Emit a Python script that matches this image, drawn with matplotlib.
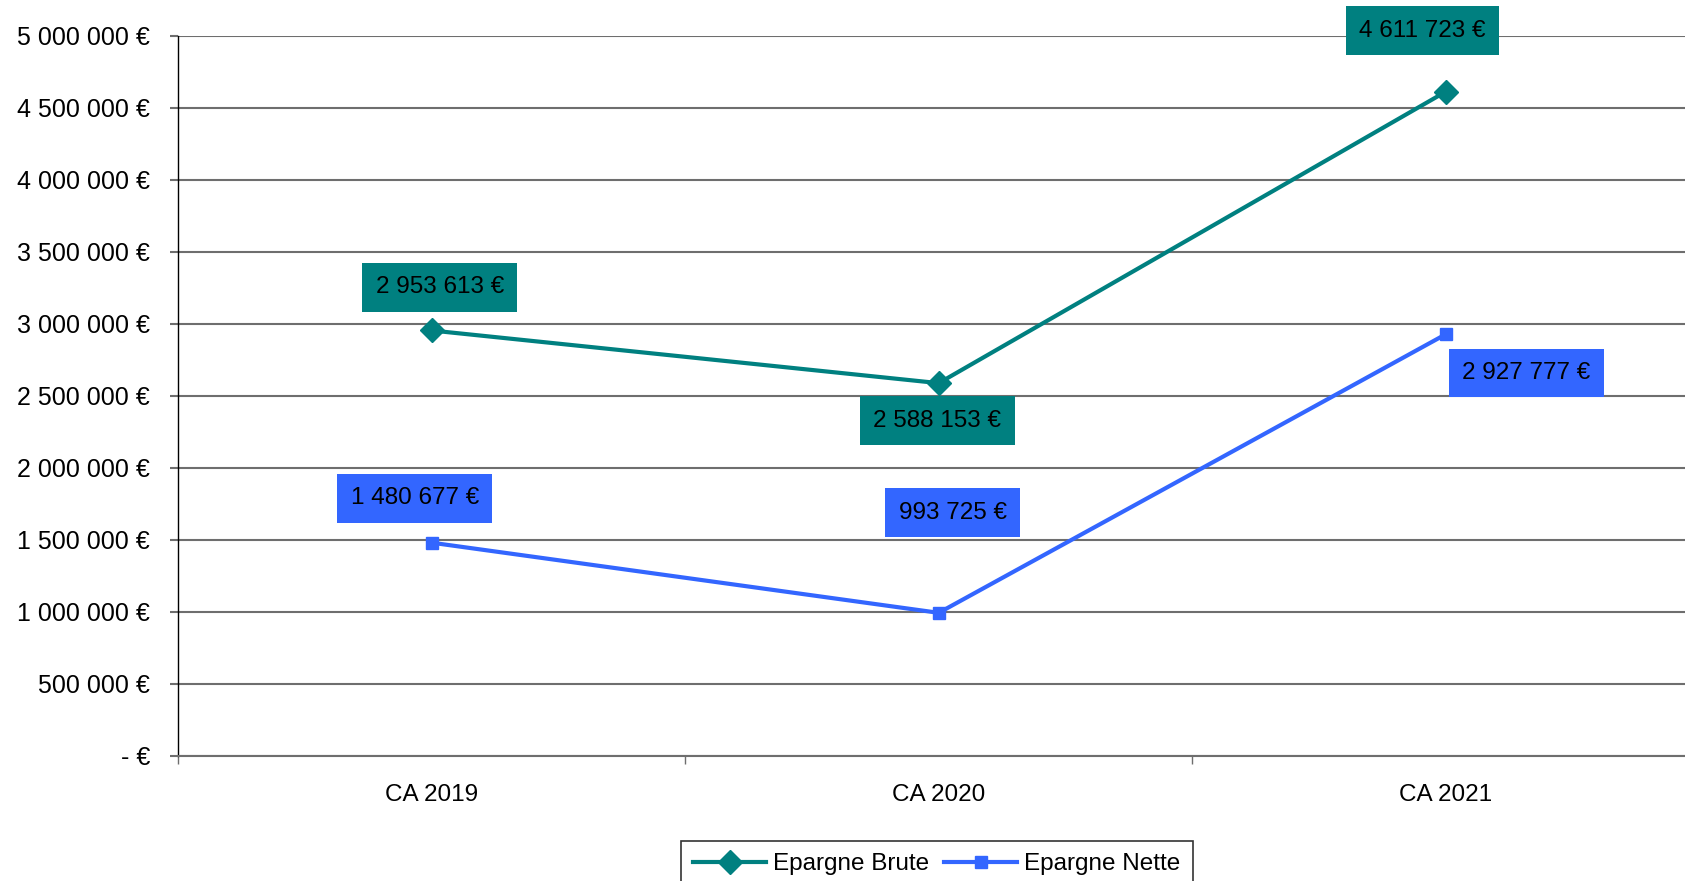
import matplotlib
matplotlib.use('Agg')
import matplotlib.pyplot as plt
from matplotlib.ticker import FuncFormatter, FixedLocator

plt.rcParams['font.family'] = ['Liberation Sans', 'DejaVu Sans']

# data
categories = ['CA 2019', 'CA 2020', 'CA 2021']
epargne_brute = [2953613, 2588153, 4611723]
epargne_nette = [1480677, 993725, 2927777]

teal = '#008080'
blue = '#3366FF'
fs = 17.5

# label offsets in points (position only)
brute_offsets = [(6, 31), (-1, -27), (-17, 44)]
nette_offsets = [(-12, 32), (10, 72), (58, -28)]


def euro(v, pos=None):
    if v == 0:
        return '- €'
    return '{:,.0f} €'.format(v).replace(',', ' ')


fig = plt.figure(figsize=(16.85, 8.81), dpi=100)
ax = fig.add_axes([0.1056, 0.1419, 0.903, 0.8176])

x = range(len(categories))
ax.plot(x, epargne_brute, color=teal, lw=3, marker='D', ms=12,
        label='Epargne Brute', zorder=3)
ax.plot(x, epargne_nette, color=blue, lw=3, marker='s', ms=8,
        label='Epargne Nette', zorder=3)

for xi, v, off in zip(x, epargne_brute, brute_offsets):
    ax.annotate(euro(v), (xi, v), xytext=off, textcoords='offset points',
                ha='center', va='center', fontsize=fs, color='black',
                bbox=dict(boxstyle='square,pad=0.55', fc=teal, ec='none'),
                zorder=4)
for xi, v, off in zip(x, epargne_nette, nette_offsets):
    ax.annotate(euro(v), (xi, v), xytext=off, textcoords='offset points',
                ha='center', va='center', fontsize=fs, color='black',
                bbox=dict(boxstyle='square,pad=0.55', fc=blue, ec='none'),
                zorder=4)

ax.set_xlim(-0.5, len(categories) - 0.5)
ax.set_ylim(0, 5000000)
ax.set_yticks(range(0, 5000001, 500000))
ax.yaxis.set_major_formatter(FuncFormatter(euro))
ax.grid(axis='y', color='#6e6e6e', lw=1.5)
ax.set_axisbelow(True)

ax.set_xticks(list(x))
ax.set_xticklabels(categories)
ax.xaxis.set_minor_locator(FixedLocator([i - 0.5 for i in range(len(categories) + 1)]))
ax.tick_params(axis='x', which='major', length=0, pad=20, labelsize=fs)
ax.tick_params(axis='x', which='minor', length=6, color='#6e6e6e', width=1)
ax.tick_params(axis='y', length=6, color='#6e6e6e', width=1.5, labelsize=18, pad=14)

for s in ['top', 'right']:
    ax.spines[s].set_visible(False)
ax.spines['bottom'].set_color('#6e6e6e')
ax.spines['bottom'].set_linewidth(1.5)
ax.spines['left'].set_color('black')
ax.spines['left'].set_linewidth(1)

leg = fig.legend(loc='upper center', bbox_to_anchor=(0.556, 0.059), ncol=2,
                 fontsize=fs, frameon=True, fancybox=False, edgecolor='black',
                 handlelength=3, columnspacing=0.6, handletextpad=0.3,
                 borderpad=0.5)
leg.get_frame().set_linewidth(1.2)

fig.savefig('out.png', dpi=100)
